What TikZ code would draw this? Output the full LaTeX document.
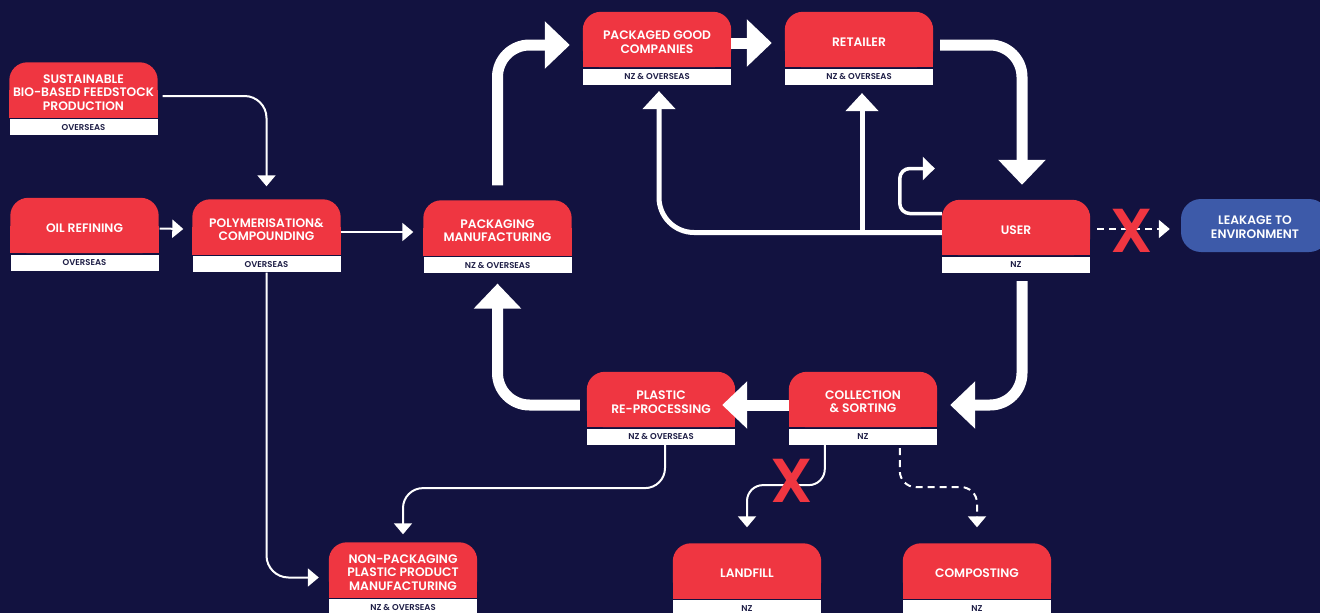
\documentclass[tikz,border=0pt]{standalone}
\usepackage{fontspec}
\setmainfont{Poppins}[BoldFont={Poppins SemiBold}]
\usetikzlibrary{arrows.meta,calc}
\definecolor{navy}{RGB}{18,18,64}
\definecolor{redc}{RGB}{239,54,65}
\definecolor{bluec}{RGB}{61,90,169}
\definecolor{stripc}{RGB}{30,30,70}
\pgfdeclarelayer{bg}
\pgfsetlayers{bg,main}
\tikzset{
  stg/.style={minimum width=148pt, minimum height=55pt, inner sep=0pt},
  stgtext/.style={inner sep=0pt, text=white,
    font=\bfseries\fontsize{12.3}{13.4}\selectfont, align=center},
  stripnode/.style={fill=white, minimum width=148pt, minimum height=16pt, inner sep=0pt,
    text=stripc, font=\bfseries\fontsize{8.5}{9}\selectfont},
  leakbox/.style={fill=bluec, rounded corners=20pt, minimum width=148pt, minimum height=53pt,
    inner sep=0pt},
  thinar/.style={draw=white, line width=2pt, -{Triangle[width=18pt,length=11pt]}},
  dashar/.style={thinar, dash pattern=on 7pt off 5pt},
  loopar/.style={draw=white, line width=3.5pt, -{Triangle[width=23pt,length=12pt]}},
  medar/.style={draw=white, line width=5pt, -{Triangle[width=32pt,length=18pt]}},
  thkar/.style={draw=white, line width=11pt, -{Triangle[width=46pt,length=25pt]}},
  xmark/.style={text=redc, font=\bfseries\fontsize{62}{62}\selectfont, inner sep=0pt}
}
\newcommand{\mkstage}[4]{%
  \node[stg] (#1) at (#2) {};
  \node[stgtext] (#1t) at ([yshift=-2.5pt]#1.center) {#3};
  \node[stripnode, anchor=north] (#1s) at ([yshift=-1.5pt]#1.south) {#4};
  \begin{pgfonlayer}{bg}
    \fill[redc, rounded corners=18pt] (#1.south west) rectangle (#1.north east);
    \fill[redc] (#1.south west) rectangle (#1.east);
  \end{pgfonlayer}}
\begin{document}
\begin{tikzpicture}[x=1pt, y=-1pt]
\begin{pgfonlayer}{bg}
  \fill[navy] (0,0) rectangle (1320,613);
\end{pgfonlayer}
\useasboundingbox (0,0) rectangle (1320,613);

\mkstage{sust}{83.5,90}{SUSTAINABLE\\BIO-BASED FEEDSTOCK\\PRODUCTION}{OVERSEAS}
\mkstage{oil}{84.5,225.5}{OIL REFINING}{OVERSEAS}
\mkstage{poly}{266.5,227}{POLYMERISATION\&\\COMPOUNDING}{OVERSEAS}
\mkstage{pack}{497.5,228}{PACKAGING\\MANUFACTURING}{NZ \& OVERSEAS}
\mkstage{pgc}{657,39.5}{PACKAGED GOOD\\COMPANIES}{NZ \& OVERSEAS}
\mkstage{ret}{859,39.5}{RETAILER}{NZ \& OVERSEAS}
\mkstage{user}{1016,227.5}{USER}{NZ}
\mkstage{coll}{863,399.5}{COLLECTION\\\& SORTING}{NZ}
\mkstage{plast}{661,399.5}{PLASTIC\\RE-PROCESSING}{NZ \& OVERSEAS}
\mkstage{nonpack}{403,570}{NON-PACKAGING\\PLASTIC PRODUCT\\MANUFACTURING}{NZ \& OVERSEAS}
\mkstage{land}{747,571}{LANDFILL}{NZ}
\mkstage{comp}{977,571}{COMPOSTING}{NZ}
\node[leakbox] (leak) at (1255,225.5) {};
\node[stgtext] (leakt) at ([yshift=-1.5pt]leak.center) {LEAKAGE TO\\ENVIRONMENT};

% thin connectors
\draw[thinar, rounded corners=22pt] ([xshift=5pt,yshift=-6pt]sust.east) -| ([yshift=13pt]poly.north);
\draw[thinar] ([xshift=1pt,yshift=-3pt]oil.east) -- ([xshift=-9pt,yshift=-2pt]poly.west);
\draw[thinar] ([yshift=-5pt]poly.east) -- ([xshift=-10pt,yshift=-4pt]pack.west);
\draw[thinar, rounded corners=22pt] (polys.south) |- ([xshift=-10pt,yshift=-7.5pt]nonpack.west);
\draw[thinar, rounded corners=20pt] ([xshift=4pt]plasts.south) -- ++(0,43) -| ([yshift=8pt]nonpack.north);
\draw[thinar, rounded corners=16pt] ([xshift=36pt]colls.south west) -- ++(0,40) -| ([yshift=16pt]land.north);
\draw[dashar, rounded corners=16pt] ([xshift=111pt,yshift=-3pt]colls.south west) -- ++(0,39) -| ([yshift=16pt]comp.north);
\draw[dashar] ([xshift=7pt,yshift=-1.5pt]user.east) -- ([xshift=-11pt,yshift=-3.5pt]leak.west);

% medium connectors
\draw[medar, rounded corners=35pt] ([yshift=-5pt]user.west) -| ([xshift=2pt,yshift=-6pt]pgcs.south);
\coordinate (br) at (ret.center |- user.west);
\draw[medar] ([xshift=3pt,yshift=-5pt]br) -- ([xshift=3pt,yshift=-8pt]rets.south);
\draw[loopar, rounded corners=10pt] ([yshift=14pt]user.west) -- ++(-42,0) -- ++(0,-45) -- ++(35,0);

% thick connectors
\draw[thkar, rounded corners=32pt] ([yshift=15pt]pack.north) |- ([xshift=-13pt,yshift=-5.5pt]pgc.west);
\draw[thkar] ([yshift=-3.5pt]pgc.east) -- ([xshift=-13pt,yshift=-3.5pt]ret.west);
\draw[thkar, rounded corners=32pt] ([xshift=7pt,yshift=-5.5pt]ret.east) -| ([xshift=6pt,yshift=15pt]user.north);
\draw[thkar, rounded corners=32pt] ([xshift=6pt,yshift=-8pt]users.south) |- ([xshift=13pt,yshift=-5.5pt]coll.east);
\draw[thkar] ([yshift=-5.5pt]coll.west) -- ([xshift=-13pt,yshift=-5.5pt]plast.east);
\draw[thkar, rounded corners=32pt] ([xshift=-7pt,yshift=-5.5pt]plast.west) -| ([yshift=-10pt]packs.south);

% red crosses
\node[xmark] (x1) at (1132,231) {X};
\node[xmark] (x2) at (792,481) {X};
\end{tikzpicture}
\end{document}
